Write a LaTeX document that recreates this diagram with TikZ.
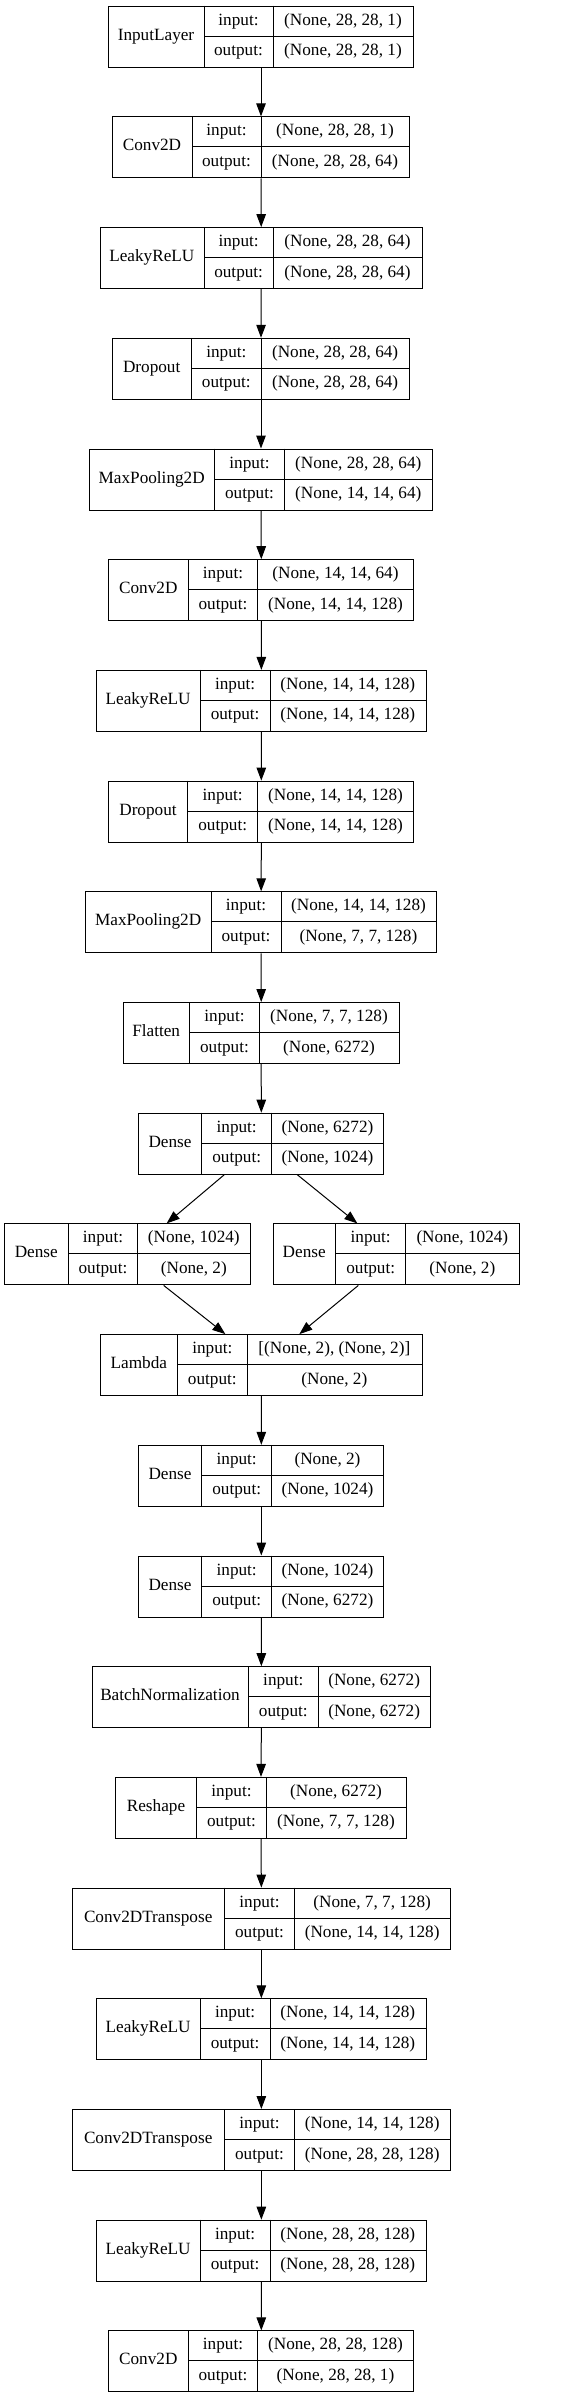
\documentclass[tikz,border=0pt]{standalone}
\usepackage{fontspec}
\setmainfont{Liberation Serif}
\usetikzlibrary{arrows.meta,calc}
\tikzset{
  lbox/.style={draw=black, line width=1pt, rectangle, inner sep=0pt, minimum height=61pt},
  cell/.style={draw=black, line width=1pt},
  txt/.style={inner sep=0pt, font=\fontsize{17.2}{20}\selectfont, text height=12pt, text depth=4pt},
  conn/.style={draw=black, line width=1pt, -{Triangle[length=13pt,width=9.5pt]}}
}
% #1 name, #2 top, #3 x0, #4 d1, #5 d2, #6 x1, #7 label, #8 input, #9 output
\newcommand{\kerlayer}[9]{%
  \node[lbox, minimum width={(#6-#3)*1pt}, anchor=north west] (#1) at (#3,#2) {};
  \draw[cell] (#4,#2) -- (#4,{#2+61});
  \draw[cell] (#5,#2) -- (#5,{#2+61});
  \draw[cell] (#4,{#2+30.5}) -- (#6,{#2+30.5});
  \node[txt] (#1-l) at ({(#3+#4)/2},{#2+30.5}) {#7};
  \node[txt] (#1-a) at ({(#4+#5)/2},{#2+15.5}) {input:};
  \node[txt] (#1-b) at ({(#4+#5)/2},{#2+46}) {output:};
  \node[txt] (#1-i) at ({(#5+#6)/2},{#2+15.5}) {#8};
  \node[txt] (#1-o) at ({(#5+#6)/2},{#2+46}) {#9};
}
\begin{document}
\begin{tikzpicture}[x=1pt,y=-1pt]
\useasboundingbox (0,0) rectangle (560,2397);
\kerlayer{L0}{5.7}{108}{204}{273}{413}{InputLayer}{(None, 28, 28, 1)}{(None, 28, 28, 1)}
\kerlayer{L1}{116.4}{112}{192}{261}{409}{Conv2D}{(None, 28, 28, 1)}{(None, 28, 28, 64)}
\kerlayer{L2}{227.1}{99.7}{204}{273.3}{421.7}{LeakyReLU}{(None, 28, 28, 64)}{(None, 28, 28, 64)}
\kerlayer{L3}{337.8}{111.7}{191.7}{261}{409.3}{Dropout}{(None, 28, 28, 64)}{(None, 28, 28, 64)}
\kerlayer{L4}{448.5}{88.7}{214.7}{284.3}{432.3}{MaxPooling2D}{(None, 28, 28, 64)}{(None, 14, 14, 64)}
\kerlayer{L5}{559.2}{108.3}{188.3}{257.7}{413.3}{Conv2D}{(None, 14, 14, 64)}{(None, 14, 14, 128)}
\kerlayer{L6}{669.9}{96}{200.3}{270}{425.7}{LeakyReLU}{(None, 14, 14, 128)}{(None, 14, 14, 128)}
\kerlayer{L7}{780.6}{108.3}{187.7}{257.7}{413.3}{Dropout}{(None, 14, 14, 128)}{(None, 14, 14, 128)}
\kerlayer{L8}{891.3}{85.3}{211}{281}{436}{MaxPooling2D}{(None, 14, 14, 128)}{(None, 7, 7, 128)}
\kerlayer{L9}{1002.0}{122.7}{189.7}{259.3}{398.7}{Flatten}{(None, 7, 7, 128)}{(None, 6272)}
\kerlayer{L10}{1112.7}{138.3}{201.7}{271.7}{383.3}{Dense}{(None, 6272)}{(None, 1024)}
\kerlayer{DL}{1223.4}{4.3}{68.3}{137.7}{250}{Dense}{(None, 1024)}{(None, 2)}
\kerlayer{DR}{1223.4}{272.7}{335.7}{405.7}{519}{Dense}{(None, 1024)}{(None, 2)}
\kerlayer{L12}{1334.1}{100}{177.7}{247}{421.7}{Lambda}{[(None, 2), (None, 2)]}{(None, 2)}
\kerlayer{L13}{1444.8}{138.3}{201.7}{271.7}{383.3}{Dense}{(None, 2)}{(None, 1024)}
\kerlayer{L14}{1555.5}{138.3}{201.7}{271.7}{383.3}{Dense}{(None, 1024)}{(None, 6272)}
\kerlayer{L15}{1666.2}{91.7}{248.3}{318.3}{430}{BatchNormalization}{(None, 6272)}{(None, 6272)}
\kerlayer{L16}{1776.9}{115.3}{196.7}{266.3}{405.7}{Reshape}{(None, 6272)}{(None, 7, 7, 128)}
\kerlayer{L17}{1887.6}{71.7}{224.7}{294.3}{450}{Conv2DTranspose}{(None, 7, 7, 128)}{(None, 14, 14, 128)}
\kerlayer{L18}{1998.3}{96}{200.3}{270}{425.7}{LeakyReLU}{(None, 14, 14, 128)}{(None, 14, 14, 128)}
\kerlayer{L19}{2109.0}{71.7}{224.7}{294.3}{450}{Conv2DTranspose}{(None, 14, 14, 128)}{(None, 28, 28, 128)}
\kerlayer{L20}{2219.7}{96}{200.3}{270}{425.7}{LeakyReLU}{(None, 28, 28, 128)}{(None, 28, 28, 128)}
\kerlayer{L21}{2330.4}{108.3}{188.3}{257.7}{413.3}{Conv2D}{(None, 28, 28, 128)}{(None, 28, 28, 1)}
% vertical connectors
\foreach \a/\b in {L0/L1,L1/L2,L2/L3,L3/L4,L4/L5,L5/L6,L6/L7,L7/L8,L8/L9,L9/L10,
                   L12/L13,L13/L14,L14/L15,L15/L16,L16/L17,L17/L18,L18/L19,L19/L20,L20/L21}
  \draw[conn] (\a.south) -- (\b.north);
% branching connectors
\draw[conn] ([xshift=-37pt]L10.south) -- ([xshift=39pt]DL.north);
\draw[conn] ([xshift=36pt]L10.south) -- ([xshift=-39pt]DR.north);
\draw[conn] ([xshift=36pt]DL.south) -- ([xshift=-36pt]L12.north);
\draw[conn] ([xshift=-38pt]DR.south) -- ([xshift=38pt]L12.north);
\end{tikzpicture}
\end{document}
